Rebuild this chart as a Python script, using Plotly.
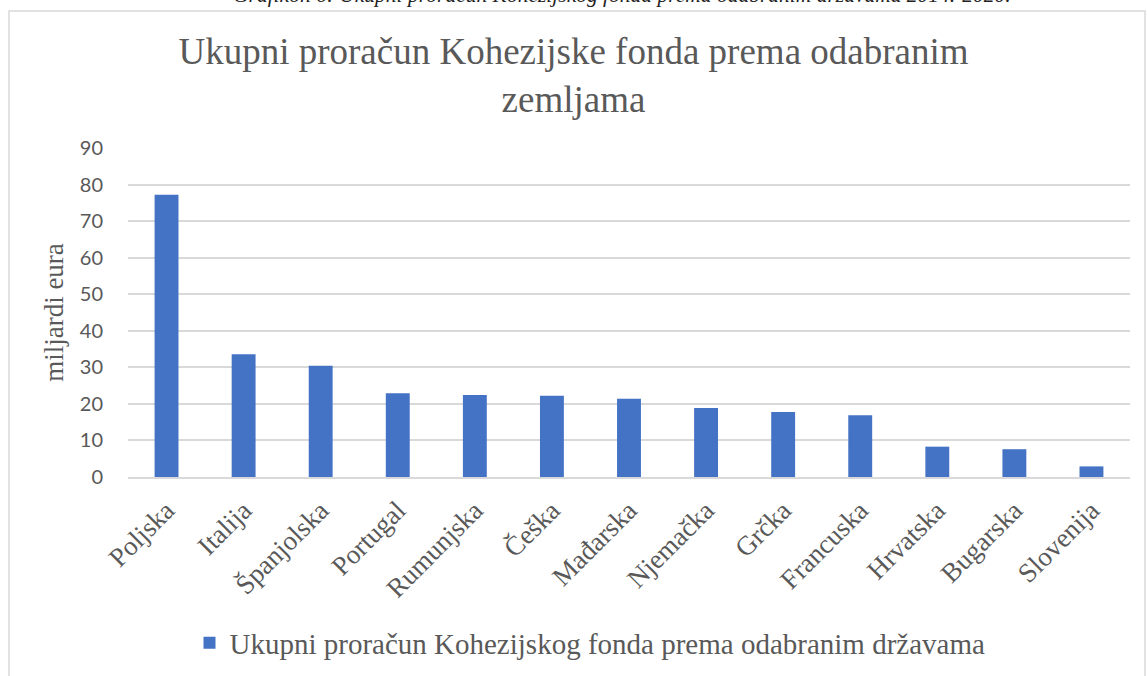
import plotly.graph_objects as go

countries = ["Poljska", "Italija", "Španjolska", "Portugal", "Rumunjska", "Češka",
             "Mađarska", "Njemačka", "Grčka", "Francuska", "Hrvatska", "Bugarska", "Slovenija"]
values = [77.2, 33.6, 30.4, 22.9, 22.4, 22.2, 21.4, 18.9, 17.8, 16.9, 8.3, 7.6, 2.9]

series_name = "Ukupni proračun Kohezijskog fonda prema odabranim državama"
chart_title = "Ukupni proračun Kohezijske fonda prema odabranim<br>zemljama"
caption = "Grafikon 6: Ukupni proračun Kohezijskog fonda prema odabranim državama 2014.-2020."
y_title = "miljardi eura"
y_ticks = [0, 10, 20, 30, 40, 50, 60, 70, 80, 90]

serif = "Liberation Serif, Times New Roman, serif"
gray = "#595959"

fig = go.Figure()
fig.add_trace(go.Bar(
    x=countries, y=values, name=series_name,
    marker=dict(color="#4472C4", line=dict(width=0)),
    width=0.31, showlegend=True,
))

W, H = 1147, 676
L, R, T, B = 128, 17, 148, 199
plot_w = W - L - R
plot_h = H - T - B

def px_x(p):
    return (p - L) / plot_w

def px_y(p):
    return (H - B - p) / plot_h

fig.update_layout(
    width=W, height=H,
    margin=dict(l=L, r=R, t=T, b=B, autoexpand=False),
    paper_bgcolor="white", plot_bgcolor="white",
    title=dict(text=chart_title, x=0.5, xanchor="center", xref="container",
               y=(H - 64) / H, yanchor="top", yref="container",
               font=dict(family=serif, size=37, color=gray)),
    xaxis=dict(tickangle=-45, tickfont=dict(family=serif, size=27, color=gray),
               showgrid=False, showline=True, linecolor="#d9d9d9", linewidth=1.5,
               ticks="", automargin=False, ticklabelstandoff=5),
    yaxis=dict(range=[0, 90], tickvals=y_ticks, showgrid=True, gridcolor="#d9d9d9",
               gridwidth=1.5, zeroline=False, showline=False, ticks="",
               tickfont=dict(family="Lato, Carlito, sans-serif", size=20, color=gray),
               ticklabelstandoff=24, automargin=False,
               title=dict(text=y_title, font=dict(family=serif, size=27, color=gray),
                          standoff=8)),
    legend=dict(orientation="h", x=(590 - 0) / W, xanchor="center", xref="container",
                y=(H - 643) / H, yref="container",
                yanchor="middle", font=dict(family=serif, size=29, color=gray),
                itemwidth=30),
    bargap=0.69,
)

fig.add_annotation(text="<i>" + caption + "</i>", xref="paper", yref="paper",
                   x=px_x(622), y=px_y(-5.5),
                   xanchor="center", yanchor="middle", showarrow=False,
                   font=dict(family=serif, size=21.5, color="#222222"))

fig.add_shape(type="rect", xref="paper", yref="paper",
              x0=px_x(9), x1=px_x(1145), y0=px_y(690), y1=px_y(11),
              line=dict(color="#d9d9d9", width=1.5), fillcolor="rgba(0,0,0,0)", layer="below")

fig.write_html("out.html", config={"displayModeBar": False},
               post_script="document.body.style.margin='0';")
